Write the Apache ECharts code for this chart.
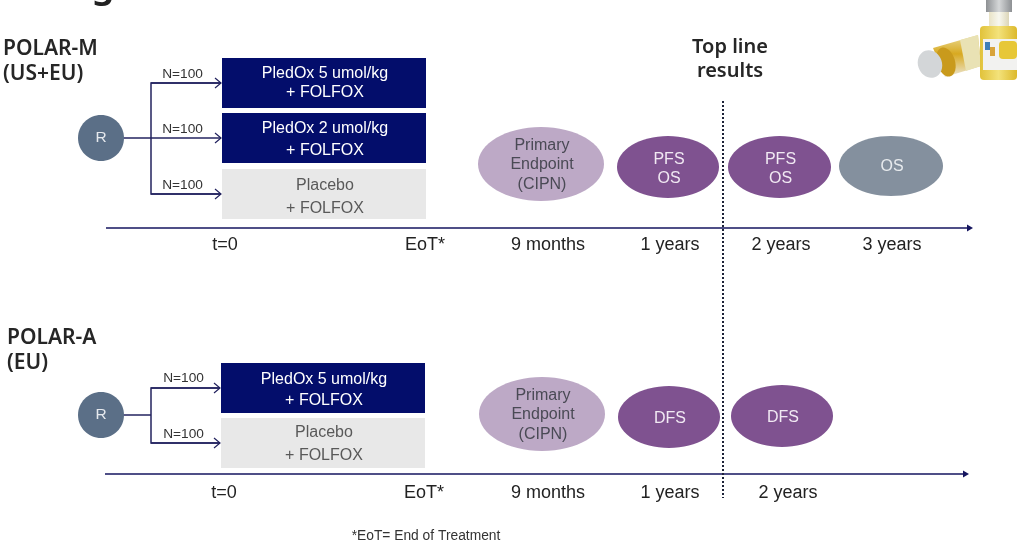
<!DOCTYPE html>
<html>
<head>
<meta charset="utf-8">
<style>
  html, body { margin: 0; padding: 0; background: #fff; }
  #main { width: 1024px; height: 558px; }
</style>
<script src="https://cdn.jsdelivr.net/npm/echarts@6/dist/echarts.min.js"></script>
</head>
<body>
<div id="main"></div>
<script>
// trial content
var titleFragment = "g";
var resultsLabel = "Top line\nresults";
var footnote = "*EoT= End of Treatment";
var randomLabel = "R";

var trialMName = ["POLAR-M", "(US+EU)"];
var trialMArms = ["PledOx 5 umol/kg\n+ FOLFOX", "PledOx 2 umol/kg\n+ FOLFOX", "Placebo\n+ FOLFOX"];
var trialMSizes = [100, 100, 100];
var trialMEndpoints = ["Primary\nEndpoint\n(CIPN)", "PFS\nOS", "PFS\nOS", "OS"];
var trialMTimes = ["t=0", "EoT*", "9 months", "1 years", "2 years", "3 years"];

var trialAName = ["POLAR-A", "(EU)"];
var trialAArms = ["PledOx 5 umol/kg\n+ FOLFOX", "Placebo\n+ FOLFOX"];
var trialASizes = [100, 100];
var trialAEndpoints = ["Primary\nEndpoint\n(CIPN)", "DFS", "DFS"];
var trialATimes = ["t=0", "EoT*", "9 months", "1 years", "2 years"];

// layout, in slide units (the hidden axes run 0-1024 and 0-558)
var NAVY = "#030d6b", LINE = "#23235f", SANS = '"Liberation Sans", Arial, sans-serif';
var armStyle = {
  drug: { fill: NAVY, color: "#fff" },
  placebo: { fill: "#e8e8e8", color: "#595959" },
};
var endpointStyle = {
  primary: { fill: "#bda9c6", color: "#4a4a55" },
  purple: { fill: "#7f5290", color: "#f1e9f3" },
  grey: { fill: "#84909e", color: "#e8ebee" },
};

var layoutM = {
  name: { x: 3, y: [49, 74] },
  circle: [101, 138],
  branchX: 151,
  arms: [
    { top: 58, bottom: 108, lh: 19, textY: 83.5, labelY: 74, arrowY: 83, style: "drug" },
    { top: 113, bottom: 163, lh: 22, textY: 140, labelY: 129, arrowY: 138, style: "drug" },
    { top: 169, bottom: 219, lh: 23, textY: 197, labelY: 185, arrowY: 194, style: "placebo" },
  ],
  boxX: [222, 426],
  labelX: 182.5,
  endpoints: [
    { cx: 541, cy: 164, rx: 63, ry: 37, textY: 165, style: "primary" },
    { cx: 668, cy: 167, rx: 51, ry: 31, textY: 169, style: "purple" },
    { cx: 779.5, cy: 167, rx: 51.5, ry: 31, textY: 169, style: "purple" },
    { cx: 891, cy: 166, rx: 52, ry: 30, textY: 167, style: "grey" },
  ],
  axis: { y: 228, from: 106, to: 973 },
  timeY: 245.5,
  timeX: [225, 425, 548, 670, 781, 892],
};
var layoutA = {
  name: { x: 7, y: [338, 363] },
  circle: [101, 415],
  branchX: 151,
  arms: [
    { top: 363, bottom: 413, lh: 21, textY: 390, labelY: 378, arrowY: 388, style: "drug" },
    { top: 418, bottom: 468, lh: 23, textY: 444, labelY: 434, arrowY: 443, style: "placebo" },
  ],
  boxX: [221, 425],
  labelX: 183.5,
  endpoints: [
    { cx: 542, cy: 414, rx: 63, ry: 37, textY: 415, style: "primary" },
    { cx: 669, cy: 417, rx: 51, ry: 31, textY: 419, style: "purple" },
    { cx: 782, cy: 416, rx: 51, ry: 31, textY: 418, style: "purple" },
  ],
  axis: { y: 474, from: 105, to: 969 },
  timeY: 493.5,
  timeX: [224, 424, 548, 670, 788],
};

var marks = [];

function addText(text, x, y, size, color, opts) {
  marks.push(Object.assign({ kind: "text", text: text, x: x, y: y, size: size, color: color }, opts));
}

function addTrial(names, arms, sizes, endpoints, times, l) {
  var head = { font: '"Noto Sans"', weight: 600, align: "left" };
  addText(names[0], l.name.x, l.name.y[0], 21, "#262626", head);
  addText(names[1], l.name.x, l.name.y[1], 21, "#262626", head);

  var ys = l.arms.map(function (a) { return a.arrowY; });
  var last = ys.length - 1;
  var stemY = l.circle[1];
  marks.push({ kind: "line", pts: [[l.circle[0], stemY], [l.branchX, stemY]], color: LINE, width: 1.5 });
  marks.push({ kind: "line", pts: [[l.boxX[0] - 1, ys[0]], [l.branchX, ys[0]], [l.branchX, ys[last]], [l.boxX[0] - 1, ys[last]]], color: LINE, width: 1.5 });

  arms.forEach(function (arm, i) {
    var a = l.arms[i], s = armStyle[a.style];
    marks.push({ kind: "rect", x0: l.boxX[0], y0: a.top, x1: l.boxX[1], y1: a.bottom, fill: s.fill });
    addText(arm, (l.boxX[0] + l.boxX[1]) / 2 + 1, a.textY, 16, s.color, { lh: a.lh });
    addText("N=" + sizes[i], l.labelX, a.labelY, 13.7, "#333", {});
    marks.push({ kind: "line", pts: [[l.branchX, a.arrowY], [l.boxX[0] - 1, a.arrowY]], color: LINE, width: 1.5 });
    marks.push({ kind: "line", pts: [[l.boxX[0] - 7, a.arrowY - 5], [l.boxX[0] - 1, a.arrowY], [l.boxX[0] - 7, a.arrowY + 5]], color: LINE, width: 1.2 });
  });

  marks.push({ kind: "ellipse", cx: l.circle[0], cy: l.circle[1], rx: 23, ry: 23, fill: "#5b6f87" });
  addText(randomLabel, l.circle[0], l.circle[1], 15.5, "#e6e9ee", {});

  endpoints.forEach(function (e, i) {
    var p = l.endpoints[i], s = endpointStyle[p.style];
    marks.push({ kind: "ellipse", cx: p.cx, cy: p.cy, rx: p.rx, ry: p.ry, fill: s.fill });
    addText(e, p.cx + 1, p.textY, 16, s.color, { lh: 19.5 });
  });

  marks.push({ kind: "line", pts: [[l.axis.from, l.axis.y], [l.axis.to - 5, l.axis.y]], color: "#15155f", width: 1.5 });
  marks.push({ kind: "poly", pts: [[l.axis.to - 6, l.axis.y - 3.5], [l.axis.to, l.axis.y], [l.axis.to - 6, l.axis.y + 3.5]], fill: "#15155f" });

  times.forEach(function (t, i) {
    addText(t, l.timeX[i], l.timeY, 18, "#222", {});
  });
}

addTrial(trialMName, trialMArms, trialMSizes, trialMEndpoints, trialMTimes, layoutM);
addTrial(trialAName, trialAArms, trialASizes, trialAEndpoints, trialATimes, layoutA);

// results cut-off and loose text
marks.push({ kind: "line", pts: [[723, 101], [723, 498]], color: "#1c2238", width: 2, dash: [2, 2] });
addText(resultsLabel, 730, 59.5, 20, "#262626", { font: '"Noto Sans"', weight: 600, lh: 24.5 });
addText(footnote, 426, 536, 13.8, "#333", {});
addText(titleFragment, 103, -14, 37, "#222", { font: '"Noto Sans"', weight: 600 });

// vial picture
function vialGradient(a, b, c) {
  return new echarts.graphic.LinearGradient(0, 0, 1, 0, [
    { offset: 0, color: a }, { offset: 0.5, color: b }, { offset: 1, color: c },
  ]);
}
marks.push({ kind: "poly", pts: [[933, 48], [978, 35], [981, 66], [945, 77]], fill: new echarts.graphic.LinearGradient(0, 0, 0, 1, [
  { offset: 0, color: "#eadb95" }, { offset: 0.45, color: "#d8a920" }, { offset: 1, color: "#ece7d6" },
]) });
marks.push({ kind: "poly", pts: [[960, 40], [978, 35], [981, 66], [966, 71]], fill: "#e9e2b4" });
marks.push({ kind: "ellipse", cx: 946, cy: 62, rx: 9, ry: 15, fill: "#c99a1c", rotation: 0.3 });
marks.push({ kind: "ellipse", cx: 930, cy: 64, rx: 12, ry: 14, fill: "#d3d6d8", rotation: 0.35 });
marks.push({ kind: "rect", x0: 986, y0: 0, x1: 1012, y1: 12, fill: vialGradient("#8d9093", "#d5d7d8", "#8d9093") });
marks.push({ kind: "rect", x0: 989, y0: 12, x1: 1009, y1: 26, fill: vialGradient("#e9e3c6", "#f7f7ef", "#dcd6b8") });
marks.push({ kind: "rect", x0: 980, y0: 26, x1: 1017, y1: 80, fill: vialGradient("#e1c23a", "#f3e27a", "#dcb92c"), r: 4 });
marks.push({ kind: "rect", x0: 983, y0: 39, x1: 1017, y1: 70, fill: "#f2f2f0" });
marks.push({ kind: "rect", x0: 999, y0: 41, x1: 1017, y1: 59, fill: "#e7c737", r: 4 });
marks.push({ kind: "rect", x0: 985, y0: 42, x1: 990, y1: 50, fill: "#3f7fb8" });
marks.push({ kind: "rect", x0: 990, y0: 47, x1: 995, y1: 56, fill: "#d8a33a" });

function toPx(api, p) {
  return api.coord(p);
}

function renderMark(params, api) {
  var m = marks[params.dataIndex];
  if (m.kind === "rect") {
    var a = toPx(api, [m.x0, m.y0]), b = toPx(api, [m.x1, m.y1]);
    return { type: "rect", shape: { x: a[0], y: a[1], width: b[0] - a[0], height: b[1] - a[1], r: m.r || 0 }, style: { fill: m.fill } };
  }
  if (m.kind === "ellipse") {
    var c = toPx(api, [m.cx, m.cy]);
    var g = api.size([m.rx, m.ry]);
    return {
      type: "ellipse",
      shape: { cx: 0, cy: 0, rx: g[0], ry: g[1] },
      x: c[0], y: c[1], rotation: m.rotation || 0,
      style: { fill: m.fill },
    };
  }
  if (m.kind === "line") {
    return {
      type: "polyline",
      shape: { points: m.pts.map(function (p) { return toPx(api, p); }) },
      style: { stroke: m.color, lineWidth: m.width, fill: null, lineDash: m.dash || null },
    };
  }
  if (m.kind === "poly") {
    return { type: "polygon", shape: { points: m.pts.map(function (p) { return toPx(api, p); }) }, style: { fill: m.fill } };
  }
  var t = toPx(api, [m.x, m.y]);
  return {
    type: "text",
    x: t[0], y: t[1],
    style: {
      text: m.text,
      fill: m.color,
      fontFamily: m.font || SANS,
      fontSize: m.size,
      fontWeight: m.weight || "normal",
      lineHeight: m.lh || m.size * 1.2,
      align: m.align || "center",
      verticalAlign: "middle",
    },
  };
}

var myChart = echarts.init(document.getElementById("main"));
myChart.setOption({
  animation: false,
  backgroundColor: "#fff",
  grid: { left: 0, right: 0, top: 0, bottom: 0 },
  xAxis: { type: "value", min: 0, max: 1024, show: false },
  yAxis: { type: "value", min: 0, max: 558, inverse: true, show: false },
  series: [
    {
      type: "custom",
      silent: true,
      clip: true,
      coordinateSystem: "cartesian2d",
      data: marks.map(function (m, i) { return [i]; }),
      renderItem: renderMark,
    },
  ],
});
</script>
</body>
</html>
